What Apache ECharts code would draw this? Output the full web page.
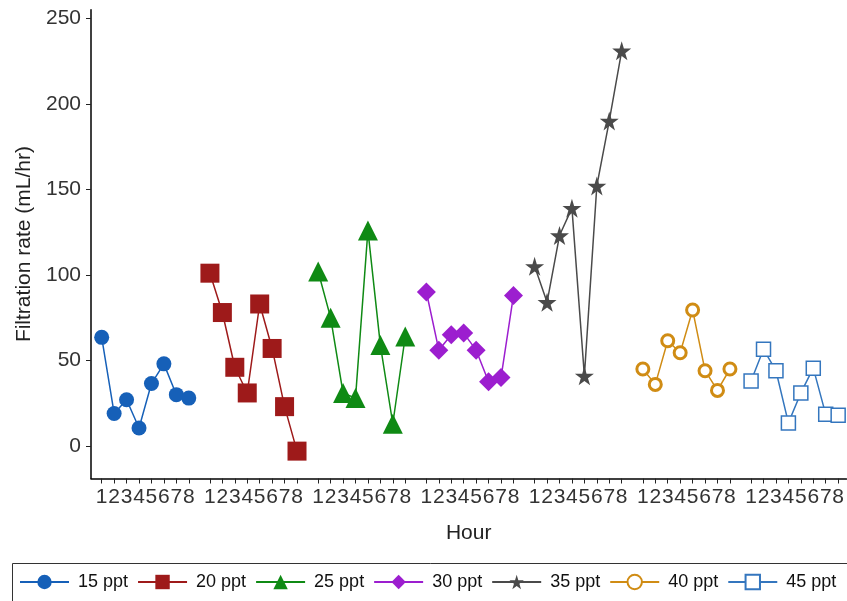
<!DOCTYPE html>
<html>
<head>
<meta charset="utf-8">
<script src="https://cdn.jsdelivr.net/npm/echarts@6/dist/echarts.min.js"></script>
<style>html,body{margin:0;padding:0;background:#fff;}#c{width:847px;height:601px;}</style>
</head>
<body>
<div id="c"></div>
<script>
// ---- data ----
const hours = [1, 2, 3, 4, 5, 6, 7, 8];
const seriesNames = ['15 ppt', '20 ppt', '25 ppt', '30 ppt', '35 ppt', '40 ppt', '45 ppt'];
const v15 = [63.5, 19, 27, 10.5, 36.5, 48, 30, 28];
const v20 = [101, 78, 46, 31, 83, 57, 23, -3];
const v25 = [102, 75, 31, 28, 126, 59, 13, 64];
const v30 = [90, 56, 65, 66, 56, 37.5, 40, 88];
const v35 = [105, 84, 123, 139, 41, 152, 190, 231];
const v40 = [45, 36, 61.5, 54.5, 79.5, 44, 32.5, 45];
const v45 = [38, 56.5, 44, 13.5, 31, 45.5, 18.5, 18];
const yTicks = [0, 50, 100, 150, 200, 250];

const allValues = [v15, v20, v25, v30, v35, v40, v45];
const GROUP_STEP = 8.7;
const colors = ['#1660b8', '#9e1a1a', '#0f8a14', '#9c1ecf', '#4a4a4a', '#d08c14', '#3476be'];
const STAR = 'path://M50,0 L61,35 L98,35 L68,57 L79,91 L50,70 L21,91 L32,57 L2,35 L39,35 Z';
const symbols = ['circle', 'rect', 'triangle', 'diamond', STAR, 'circle', 'rect'];
const sizes = [15, 19, 20, 19, 19, 12, 14];

const xPositions = [];
allValues.forEach((_, g) => hours.forEach(h => xPositions.push(g * GROUP_STEP + h)));

const series = allValues.map((vals, g) => {
  const hollow = g >= 5;
  return {
    name: seriesNames[g],
    type: 'line',
    data: vals.map((v, i) => [g * GROUP_STEP + hours[i], v]),
    symbol: symbols[g],
    symbolSize: sizes[g],
    showAllSymbol: true,
    lineStyle: { color: colors[g], width: 1.5 },
    itemStyle: hollow
      ? { color: '#ffffff', borderColor: colors[g], borderWidth: g === 5 ? 3 : 1.5 }
      : { color: colors[g], borderColor: colors[g], borderWidth: 0 },
    emphasis: { disabled: true },
    animation: false
  };
});

const chart = echarts.init(document.getElementById('c'), null, { renderer: 'canvas' });
chart.setOption({
  animation: false,
  textStyle: { fontFamily: 'Liberation Sans, Arial, sans-serif' },
  grid: { left: 91, right: 0, top: 9.7, bottom: 601 - 478.5 },
  xAxis: {
    type: 'value',
    min: 0.14,
    max: 60.86,
    name: 'Hour',
    nameLocation: 'middle',
    nameGap: 44,
    nameTextStyle: { fontSize: 21, color: '#222' },
    splitLine: { show: false },
    axisLine: { show: true, onZero: false, lineStyle: { color: '#000', width: 1.5 } },
    axisTick: { show: true, customValues: xPositions, length: 5, lineStyle: { color: '#222' } },
    axisLabel: {
      customValues: xPositions,
      interval: 0,
      fontSize: 21,
      color: '#333',
      margin: 8,
      formatter: function (v) {
        const g = Math.round((v - 4.5) / GROUP_STEP);
        return String(Math.round(v - g * GROUP_STEP));
      }
    }
  },
  yAxis: {
    type: 'value',
    min: -19,
    max: 255,
    name: 'Filtration rate (mL/hr)',
    nameLocation: 'middle',
    nameGap: 55,
    nameTextStyle: { fontSize: 21, color: '#222' },
    splitLine: { show: false },
    axisLine: { show: true, onZero: false, lineStyle: { color: '#000', width: 1.5 } },
    axisTick: { show: true, customValues: yTicks, length: 5, lineStyle: { color: '#222' } },
    axisLabel: { customValues: yTicks, fontSize: 21, color: '#333', margin: 10 }
  },
  legend: {
    data: seriesNames,
    left: 19,
    top: 573,
    width: 1200,
    padding: 0,
    itemWidth: 49,
    itemHeight: 18,
    itemGap: 9,
    textStyle: { fontSize: 18, color: '#111', padding: [0, 0, 0, 4] },
    selectedMode: false
  },
  graphic: [{
    type: 'rect',
    shape: { x: 12.5, y: 563.5, width: 850, height: 45 },
    style: { fill: 'none', stroke: '#333', lineWidth: 1 },
    silent: true
  }],
  series: series
});
</script>
</body>
</html>
